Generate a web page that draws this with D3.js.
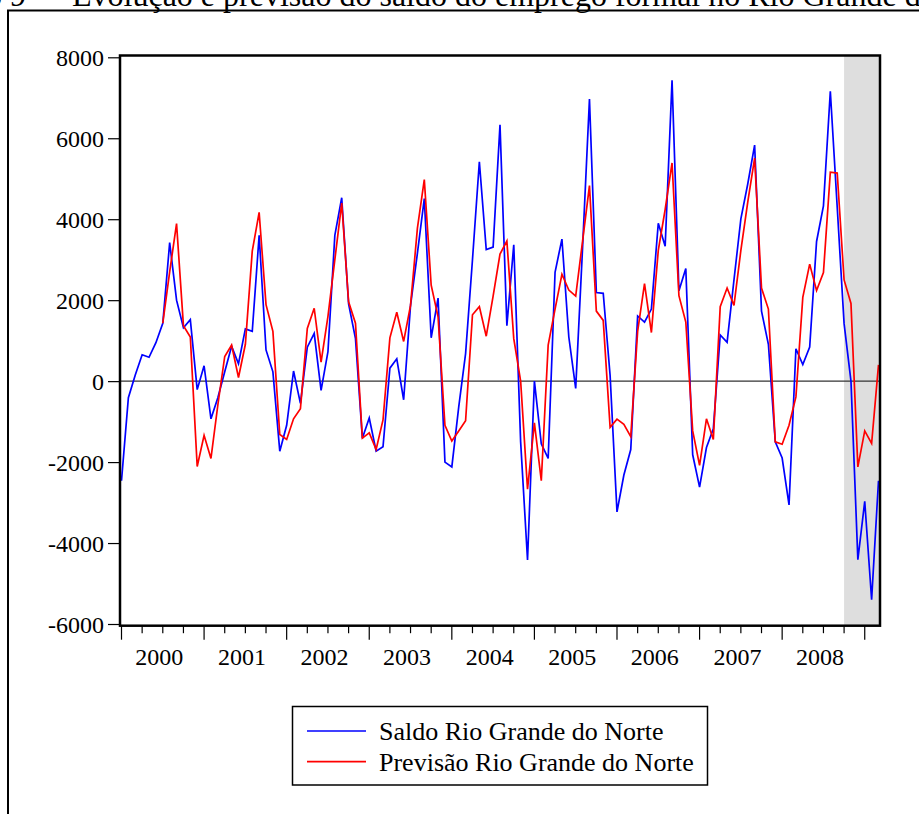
<!DOCTYPE html>
<html>
<head>
<meta charset="utf-8">
<script src="https://cdn.jsdelivr.net/npm/d3@7"></script>
<style>
    body { margin: 0; background: #fff; }
    svg text { font-family: "Liberation Serif", "Times New Roman", serif; fill: #000; }
</style>
</head>
<body>
<svg id="chart" width="919" height="814"></svg>
<script>
// monthly series, 2000M01 .. 2009M03
var years = ['2000', '2001', '2002', '2003', '2004', '2005', '2006', '2007', '2008'];
var yTicks = [-6000, -4000, -2000, 0, 2000, 4000, 6000, 8000];

var saldo = [
    -2460, -410, 150, 650, 590, 950, 1430, 3420, 2000, 1320, 1520, -210,
    380, -930, -410, 230, 860, 430, 1290, 1230, 3600, 770, 230, -1730,
    -1090, 250, -550, 840, 1180, -230, 730, 3600, 4530, 1910, 1050, -1410,
    -910, -1730, -1620, 320, 550, -460, 1870, 3160, 4510, 1070, 2050, -2000,
    -2120, -640, 680, 3000, 5420, 3250, 3310, 6330, 1370, 3370, -1500, -4420,
    0, -1550, -1910, 2690, 3510, 1090, -180, 3300, 6970, 2190, 2170, 140,
    -3230, -2320, -1690, 1610, 1460, 1780, 3900, 3330, 7430, 2230, 2780, -1820,
    -2620, -1640, -1180, 1140, 960, 2500, 4010, 4870, 5830, 1730, 910, -1500,
    -1900, -3060, 800, 410, 840, 3450, 4330, 7160, 4300, 1420, 0, -4410,
    -2970, -5400, -2460
];

var previsao = [
    null, null, null, null, null, null, 1430, 2700, 3890, 1370, 1090, -2110,
    -1340, -1910, -590, 610, 890, 90, 910, 3210, 4170, 1890, 1230, -1320,
    -1440, -930, -680, 1300, 1800, 470, 1600, 3000, 4400, 1960, 1430, -1410,
    -1280, -1690, -960, 1070, 1700, 980, 1870, 3780, 4980, 2370, 1590, -1090,
    -1480, -1230, -980, 1640, 1840, 1110, 2100, 3140, 3460, 1050, 0, -2670,
    -1030, -2460, 890, 1780, 2640, 2250, 2100, 3460, 4830, 1730, 1500, -1140,
    -940, -1070, -1370, 1230, 2410, 1200, 3230, 4240, 5390, 2110, 1460, -1230,
    -2080, -930, -1440, 1840, 2300, 1870, 3230, 4420, 5510, 2300, 1780, -1500,
    -1560, -1090, -390, 2070, 2890, 2240, 2680, 5160, 5140, 2500, 1920, -2120,
    -1230, -1540, 400
];

var forecastStart = 105; // 2008M10, shaded region
var seriesNames = ['Saldo Rio Grande do Norte', 'Previsão Rio Grande do Norte'];
var seriesColors = ['#0000ff', '#ff0000'];

var svg = d3.select('#chart');
var serif = '"Liberation Serif", "Times New Roman", serif';

var plot = {left: 120, right: 880, top: 55.5, bottom: 625.7};

var x = d3.scaleLinear().domain([0, saldo.length - 1]).range([121.5, 878.5]);
var y = d3.scaleLinear().domain([-6000, 8000]).range([624, 57.3]);

//outer figure frame (runs off the page on the right and bottom)
svg.append('path')
    .attr('d', 'M8,830 L8,10.5 L930,10.5')
    .attr('fill', 'none')
    .attr('stroke', '#000')
    .attr('stroke-width', 2);

//title, mostly cut off at the top of the page
svg.append('text')
    .attr('x', 66).attr('y', 6)
    .attr('text-anchor', 'end')
    .style('font-size', '32px')
    .text('Gráfico 9 —');
svg.append('text')
    .attr('x', 72).attr('y', 6)
    .style('font-size', '32px')
    .text('Evolução e previsão do saldo do emprego formal no Rio Grande do Norte');

//shaded forecast area
svg.append('rect')
    .attr('x', x(forecastStart))
    .attr('y', plot.top)
    .attr('width', plot.right - x(forecastStart))
    .attr('height', plot.bottom - plot.top)
    .attr('fill', '#dedede');

//zero line
svg.append('line')
    .attr('x1', plot.left).attr('x2', plot.right)
    .attr('y1', y(0)).attr('y2', y(0))
    .attr('stroke', '#333')
    .attr('stroke-width', 1.2);

//y axis
var yAxis = d3.axisLeft(y).tickValues(yTicks).tickSize(12).tickPadding(4)
    .tickFormat(function (d) { return d < 0 ? '-' + Math.abs(d) : String(d); });
var gy = svg.append('g')
    .attr('transform', 'translate(' + plot.left + ',0)')
    .call(yAxis)
    .attr('font-family', serif)
    .attr('font-size', 24);
gy.select('.domain').remove();
gy.selectAll('.tick line').attr('stroke', '#000').attr('stroke-width', 1.2);
gy.selectAll('.tick text')
    .attr('dy', null).attr('y', 8)
    .style('font-family', serif)
    .style('font-size', '24px');

//x axis: quarterly ticks, longer at the start of each year
var xTicks = d3.range(0, saldo.length, 3);
var gx = svg.append('g').attr('transform', 'translate(0,' + plot.bottom + ')');
gx.selectAll('line')
    .data(xTicks)
    .enter().append('line')
    .attr('x1', function (d) { return x(d); })
    .attr('x2', function (d) { return x(d); })
    .attr('y1', 0)
    .attr('y2', function (d) { return d % 12 == 0 ? 14 : 7.5; })
    .attr('stroke', '#000')
    .attr('stroke-width', 1.2);
gx.selectAll('text')
    .data(years)
    .enter().append('text')
    .attr('x', function (d, i) { return x(i * 12 + 5.5); })
    .attr('y', 39.5)
    .attr('text-anchor', 'middle')
    .style('font-family', serif)
    .style('font-size', '24px')
    .text(function (d) { return d; });

//series lines
var line = d3.line()
    .defined(function (d) { return d !== null; })
    .x(function (d, i) { return x(i); })
    .y(function (d) { return y(d); });

[saldo, previsao].forEach(function (s, k) {
    svg.append('path')
        .datum(s)
        .attr('d', line)
        .attr('fill', 'none')
        .attr('stroke', seriesColors[k])
        .attr('stroke-width', 1.7)
        .attr('stroke-linejoin', 'miter');
});

//plot frame
svg.append('rect')
    .attr('x', plot.left).attr('y', plot.top)
    .attr('width', plot.right - plot.left)
    .attr('height', plot.bottom - plot.top)
    .attr('fill', 'none')
    .attr('stroke', '#000')
    .attr('stroke-width', 2.5);

//legend
var legend = svg.append('g');
legend.append('rect')
    .attr('x', 292.5).attr('y', 706.5)
    .attr('width', 415).attr('height', 78.5)
    .attr('fill', '#fff')
    .attr('stroke', '#000')
    .attr('stroke-width', 1.5);
seriesNames.forEach(function (name, k) {
    var ly = 731 + k * 30.7;
    legend.append('line')
        .attr('x1', 307).attr('x2', 366)
        .attr('y1', ly).attr('y2', ly)
        .attr('stroke', seriesColors[k])
        .attr('stroke-width', 1.7);
    legend.append('text')
        .attr('x', 379).attr('y', ly + 9)
        .style('font-family', serif)
        .style('font-size', '26px')
        .text(name);
});
</script>
</body>
</html>
